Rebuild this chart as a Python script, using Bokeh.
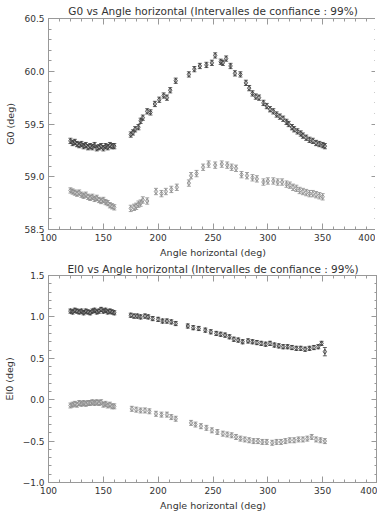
from bokeh.plotting import figure
from bokeh.layouts import column
from bokeh.models import (ColumnDataSource, Whisker, TeeHead, LinearAxis, SingleIntervalTicker,
                          CustomJSTickFormatter, Range1d)
from bokeh.embed import file_html
from bokeh.resources import INLINE

# ---------------- data ----------------
# G0 (top panel)
g0a_x = [120, 122, 124, 126, 128, 130, 132, 134, 136, 138, 140, 142, 144, 146, 148, 150, 152, 154, 156, 158, 160,
         175, 177, 179, 182, 184, 186, 190, 193, 197, 201, 205, 208, 211, 216, 228, 233, 238, 244, 249, 252,
         257, 259, 262, 266, 270, 275, 280, 283, 286, 289, 292, 296, 299, 302, 305, 308, 311, 314, 317, 319,
         322, 324, 327, 330, 332, 335, 338, 341, 344, 347, 350, 352]
g0a_y = [59.34, 59.32, 59.33, 59.31, 59.30, 59.31, 59.29, 59.30, 59.28, 59.29, 59.28, 59.30, 59.27, 59.28, 59.29,
         59.27, 59.29, 59.28, 59.30, 59.29, 59.29,
         59.40, 59.42, 59.45, 59.47, 59.53, 59.56, 59.62, 59.61, 59.69, 59.73, 59.77, 59.75, 59.82, 59.91,
         59.97, 60.02, 60.05, 60.06, 60.08, 60.15, 60.09, 60.08, 60.12, 60.05, 59.98, 59.97, 59.89, 59.84,
         59.79, 59.76, 59.75, 59.70, 59.67, 59.64, 59.62, 59.59, 59.57, 59.55, 59.52, 59.50, 59.47, 59.45,
         59.43, 59.41, 59.39, 59.37, 59.35, 59.34, 59.32, 59.31, 59.30, 59.29]
g0a_err = [0.025] * 73

g0b_x = [120, 122, 124, 126, 128, 130, 132, 134, 136, 138, 140, 142, 144, 146, 148, 150, 152, 154, 156, 158, 160,
         175, 178, 180, 182, 184, 186, 190, 198, 203, 207, 212, 217, 228, 230, 235, 241, 246, 252, 258, 263,
         267, 271, 276, 281, 286, 290, 296, 300, 305, 309, 313, 317, 320, 323, 326, 329, 332, 335, 338, 341,
         344, 347, 350]
g0b_y = [58.87, 58.86, 58.85, 58.84, 58.85, 58.83, 58.82, 58.83, 58.81, 58.80, 58.81, 58.79, 58.80, 58.78,
         58.77, 58.78, 58.76, 58.75, 58.73, 58.72, 58.71,
         58.70, 58.71, 58.72, 58.74, 58.75, 58.78, 58.77, 58.86, 58.84, 58.86, 58.88, 58.90, 58.94, 59.01,
         59.03, 59.09, 59.12, 59.11, 59.12, 59.11, 59.09, 59.08, 59.02, 59.01, 58.99, 58.98, 58.95, 58.96,
         58.96, 58.95, 58.95, 58.93, 58.92, 58.90, 58.89, 58.87, 58.86, 58.85, 58.84, 58.84, 58.83, 58.82,
         58.81]
g0b_err = [0.025] * 21 + [0.03] * 43

# EI0 (bottom panel)
e0a_x = [120, 122, 124, 126, 128, 130, 132, 134, 136, 138, 140, 142, 144, 146, 148, 150, 152, 154, 156, 158, 160,
         175, 178, 181, 184, 188, 191, 195, 200, 204, 208, 212, 216, 227, 232, 237, 243, 248, 253, 257, 261,
         265, 269, 273, 277, 282, 286, 290, 294, 298, 302, 306, 310, 314, 318, 322, 326, 330, 334, 338, 342,
         346, 349, 352]
e0a_y = [1.07, 1.06, 1.08, 1.07, 1.06, 1.07, 1.05, 1.07, 1.06, 1.05, 1.07, 1.08, 1.06, 1.07, 1.09, 1.07, 1.08,
         1.06, 1.07, 1.06, 1.05,
         1.02, 1.01, 1.01, 1.00, 1.01, 1.00, 0.98, 0.97, 0.95, 0.95, 0.94, 0.92, 0.89, 0.87, 0.86, 0.84, 0.82,
         0.80, 0.79, 0.78, 0.76, 0.73, 0.72, 0.70, 0.71, 0.70, 0.69, 0.68, 0.67, 0.68, 0.66, 0.65, 0.64, 0.64,
         0.63, 0.62, 0.62, 0.61, 0.62, 0.63, 0.64, 0.68, 0.58]
e0a_err = [0.025] * 63 + [0.05]

e0b_x = [120, 122, 124, 126, 128, 130, 132, 134, 136, 138, 140, 142, 144, 146, 148, 150, 152, 154, 156, 158, 160,
         176, 180, 184, 188, 192, 198, 203, 208, 212, 216, 230, 234, 239, 244, 249, 254, 259, 263, 267, 271,
         275, 279, 283, 287, 291, 295, 299, 304, 308, 312, 316, 320, 324, 328, 332, 336, 340, 344, 348, 352]
e0b_y = [-0.07, -0.06, -0.05, -0.06, -0.04, -0.05, -0.04, -0.05, -0.04, -0.04, -0.03, -0.04, -0.03, -0.04,
         -0.03, -0.06, -0.05, -0.07, -0.06, -0.08, -0.08,
         -0.11, -0.12, -0.13, -0.13, -0.14, -0.17, -0.18, -0.18, -0.21, -0.23, -0.28, -0.30, -0.32, -0.34,
         -0.37, -0.39, -0.41, -0.42, -0.43, -0.45, -0.47, -0.48, -0.49, -0.50, -0.50, -0.51, -0.51, -0.52,
         -0.51, -0.51, -0.50, -0.49, -0.49, -0.48, -0.48, -0.47, -0.45, -0.48, -0.49, -0.50]
e0b_err = [0.03] * 61

FONT = "DejaVu Sans"
TXT = "#333333"
FRAME = "#999999"
DARK = "#3a3a3a"
LIGHT = "#8c8c8c"

fmt = CustomJSTickFormatter(code="return tick.toFixed(1).replace('-', '\u2212');")
blank = CustomJSTickFormatter(code="return '';")


def style_axis(ax, labels=True):
    ax.axis_line_color = FRAME
    ax.major_tick_line_color = FRAME
    ax.minor_tick_line_color = FRAME
    ax.major_tick_in = 6
    ax.major_tick_out = 0
    ax.minor_tick_in = 3
    ax.minor_tick_out = 0
    ax.major_label_text_font = FONT
    ax.major_label_text_color = TXT
    ax.major_label_text_font_size = "9px"
    ax.axis_label_text_font = FONT
    ax.axis_label_text_color = TXT
    ax.axis_label_text_font_size = "9.5px"
    ax.axis_label_text_font_style = "normal"
    if not labels:
        ax.formatter = blank
        ax.major_label_standoff = 0
        ax.axis_label_standoff = 0


def make_panel(title, ylabel, y0, y1, series, frame_h, title_standoff):
    p = figure(frame_width=329, frame_height=frame_h, output_backend="svg", toolbar_location=None,
               x_range=Range1d(100, 400), y_range=Range1d(y0, y1),
               min_border_left=40, min_border_right=0, min_border_top=0, min_border_bottom=0)
    p.title.text = title
    p.title.align = "center"
    p.title.text_font = FONT
    p.title.text_font_size = "10.5px"
    p.title.text_font_style = "normal"
    p.title.text_color = TXT
    p.title.standoff = title_standoff
    p.xgrid.visible = False
    p.ygrid.visible = False
    p.outline_line_color = FRAME
    p.background_fill_color = "white"
    p.border_fill_color = "white"

    p.xaxis.ticker = SingleIntervalTicker(interval=50, num_minor_ticks=5)
    p.yaxis.ticker = SingleIntervalTicker(interval=0.5, num_minor_ticks=5)
    p.xaxis.axis_label = "Angle horizontal (deg)"
    p.yaxis.axis_label = ylabel
    for ax in p.xaxis + p.yaxis:
        style_axis(ax)
    p.yaxis.formatter = fmt
    p.xaxis.axis_label_standoff = 3
    p.yaxis.axis_label_standoff = 5
    p.xaxis.major_label_standoff = 4
    p.yaxis.major_label_standoff = 4

    ax_r = LinearAxis(ticker=SingleIntervalTicker(interval=0.5, num_minor_ticks=5))
    ax_t = LinearAxis(ticker=SingleIntervalTicker(interval=50, num_minor_ticks=5))
    style_axis(ax_r, labels=False)
    style_axis(ax_t, labels=False)
    p.add_layout(ax_r, "right")
    p.add_layout(ax_t, "above")

    for xs, ys, es, col in series:
        src = ColumnDataSource(dict(x=xs, y=ys,
                                    lo=[a - b for a, b in zip(ys, es)],
                                    hi=[a + b for a, b in zip(ys, es)]))
        w = Whisker(source=src, base="x", upper="hi", lower="lo", line_color=col, line_width=0.8,
                    upper_head=TeeHead(size=4, line_color=col, line_width=0.8),
                    lower_head=TeeHead(size=4, line_color=col, line_width=0.8))
        p.add_layout(w)
        p.scatter("x", "y", source=src, marker="diamond", size=5, line_color=col, fill_alpha=0,
                  line_width=0.9)
    return p


p1 = make_panel("G0 vs Angle horizontal (Intervalles de confiance : 99%)", "G0 (deg)", 58.5, 60.5,
                [(g0a_x, g0a_y, g0a_err, DARK), (g0b_x, g0b_y, g0b_err, LIGHT)], 211, 4)
p2 = make_panel("EI0 vs Angle horizontal (Intervalles de confiance : 99%)", "EI0 (deg)", -1.0, 1.5,
                [(e0a_x, e0a_y, e0a_err, DARK), (e0b_x, e0b_y, e0b_err, LIGHT)], 207, 1)

layout = column(p1, p2, spacing=0)
open("out.html", "w").write(file_html(layout, INLINE))
